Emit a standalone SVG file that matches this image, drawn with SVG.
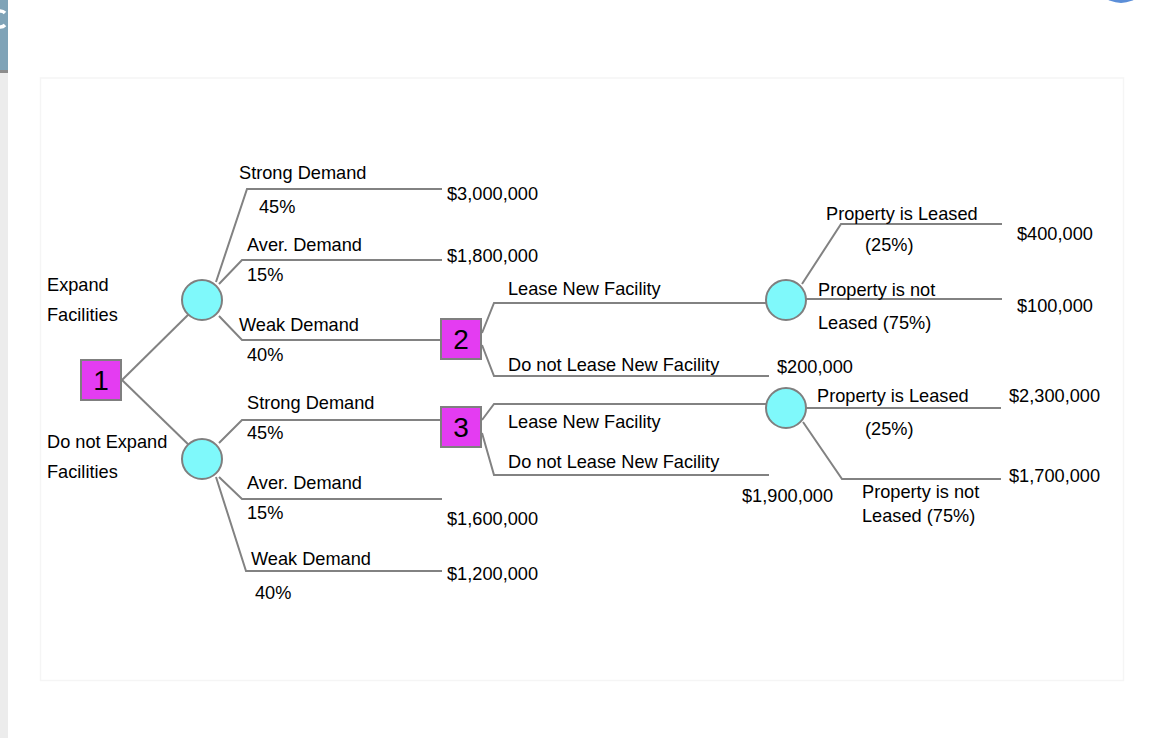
<svg xmlns="http://www.w3.org/2000/svg" width="1156" height="738" viewBox="0 0 1156 738">
<style>
text{font-family:"Liberation Sans",Arial,sans-serif;font-size:18.2px;fill:#000}
.num{font-size:28px}
.conn{fill:none;stroke:#828282;stroke-width:2}
.chance{fill:#7ff9fb;stroke:#7f7f7f;stroke-width:2}
.dec{fill:#e43cf2;stroke:#7f7f7f;stroke-width:2}
</style>
<rect width="1156" height="738" fill="#fff"/>
<rect x="0" y="0" width="8" height="70" fill="#7fa3b7"/>
<rect x="0" y="70" width="8" height="3" fill="#8c8c8c"/>
<rect x="0" y="73" width="8" height="665" fill="#ececec"/>
<path d="M5,13 A7,8 0 1 0 5,25" fill="none" stroke="#fff" stroke-width="3.5"/>
<circle cx="1121" cy="-25" r="28" fill="#5b8ed8"/>
<rect x="40.5" y="78" width="1083" height="602.5" fill="#fff" stroke="#f5f5f5" stroke-width="1.5"/>

<g id="connectors">
<polyline class="conn" points="122,380 193,310"/>
<polyline class="conn" points="122,380 193,449"/>
<polyline class="conn" points="216,282 247,189 442,189"/>
<polyline class="conn" points="219,284 242,260 442,260"/>
<polyline class="conn" points="219,316 242,340 441,340"/>
<polyline class="conn" points="219,443 242,420 441,420"/>
<polyline class="conn" points="219,477 242,499 442,499"/>
<polyline class="conn" points="216,477 246,571 442,571"/>
<polyline class="conn" points="482,333 494,303 770,303"/>
<polyline class="conn" points="482,345 494,376 769,376"/>
<polyline class="conn" points="482,420 494,404 770,404"/>
<polyline class="conn" points="482,433 494,475 769,475"/>
<polyline class="conn" points="802,284 841,224 1002,224"/>
<polyline class="conn" points="806,299 1002,299"/>
<polyline class="conn" points="806,408 1001,408"/>
<polyline class="conn" points="803,422 842,479 1001,479"/>
</g>

<g id="node1"><rect class="dec" x="81" y="360" width="40" height="40"/><text class="num" x="101" y="390" text-anchor="middle">1</text></g>
<g id="node2"><rect class="dec" x="441" y="319" width="40" height="40"/><text class="num" x="461" y="349" text-anchor="middle">2</text></g>
<g id="node3"><rect class="dec" x="441" y="407" width="40" height="40"/><text class="num" x="461" y="437" text-anchor="middle">3</text></g>
<g id="chanceA"><circle class="chance" cx="202" cy="300" r="20"/></g>
<g id="chanceB"><circle class="chance" cx="202" cy="459" r="20"/></g>
<g id="chanceC"><circle class="chance" cx="786" cy="300" r="20"/></g>
<g id="chanceD"><circle class="chance" cx="786" cy="408" r="20"/></g>

<g id="labels">
<text x="47" y="291">Expand</text>
<text x="47" y="321">Facilities</text>
<text x="47" y="448">Do not Expand</text>
<text x="47" y="478">Facilities</text>
<text x="239" y="179">Strong Demand</text>
<text x="259" y="213">45%</text>
<text x="247" y="251">Aver. Demand</text>
<text x="247" y="281">15%</text>
<text x="239" y="331">Weak Demand</text>
<text x="247" y="361">40%</text>
<text x="247" y="409">Strong Demand</text>
<text x="247" y="439">45%</text>
<text x="247" y="489">Aver. Demand</text>
<text x="247" y="519">15%</text>
<text x="251" y="565">Weak Demand</text>
<text x="255" y="599">40%</text>
<text x="447" y="200">$3,000,000</text>
<text x="447" y="262">$1,800,000</text>
<text x="447" y="525">$1,600,000</text>
<text x="447" y="580">$1,200,000</text>
<text x="508" y="295">Lease New Facility</text>
<text x="508" y="371">Do not Lease New Facility</text>
<text x="508" y="428">Lease New Facility</text>
<text x="508" y="468">Do not Lease New Facility</text>
<text x="777" y="373">$200,000</text>
<text x="742" y="502">$1,900,000</text>
<text x="826" y="220">Property is Leased</text>
<text x="865" y="251">(25%)</text>
<text x="818" y="296">Property is not</text>
<text x="818" y="329">Leased (75%)</text>
<text x="1017" y="240">$400,000</text>
<text x="1017" y="312">$100,000</text>
<text x="817" y="402">Property is Leased</text>
<text x="865" y="435">(25%)</text>
<text x="862" y="498">Property is not</text>
<text x="862" y="522">Leased (75%)</text>
<text x="1009" y="402">$2,300,000</text>
<text x="1009" y="482">$1,700,000</text>
</g>
</svg>
